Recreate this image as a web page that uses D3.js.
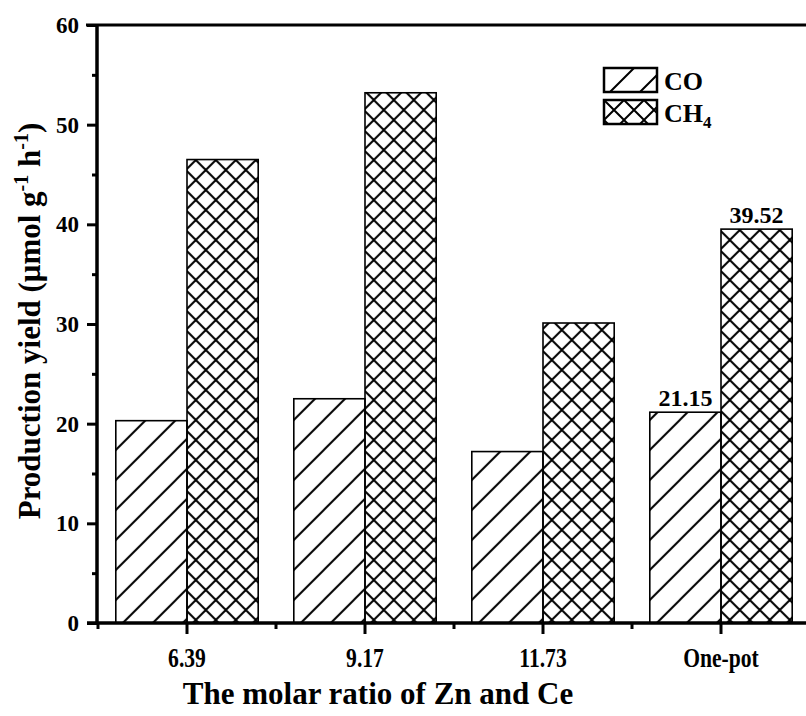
<!DOCTYPE html>
<html lang="en">
<head>
<meta charset="UTF-8">
<title>Production yield</title>
<script src="https://d3js.org/d3.v7.min.js"></script>
<style>
  body { margin: 0; background: #fff; }
  text { font-family: "Liberation Serif", "Times New Roman", serif; font-weight: bold; fill: #000; }
</style>
</head>
<body>
<div id="chart"></div>
<script>
// -- data --
const categories = ["6.39", "9.17", "11.73", "One-pot"];
const coValues = [20.3, 22.5, 17.2, 21.15];
const ch4Values = [46.5, 53.2, 30.1, 39.52];
const series = ["CO", "CH4"];
const yTicks = [0, 10, 20, 30, 40, 50, 60];
const yMinorTicks = [5, 15, 25, 35, 45, 55];
const labelledCategory = "One-pot";   // only this group carries value labels

const width = 806, height = 716;

const svg = d3.select("#chart").append("svg")
    .attr("width", width)
    .attr("height", height);

// -- hatch patterns --
const defs = svg.append("defs");
const diag = defs.append("pattern")
    .attr("id", "hatchCO")
    .attr("patternUnits", "userSpaceOnUse")
    .attr("width", 30).attr("height", 30);
diag.append("path")
    .attr("d", "M0,30 L30,0 M-2,2 L2,-2 M28,32 L32,28")
    .attr("stroke", "#000").attr("stroke-width", 2);

const cross = defs.append("pattern")
    .attr("id", "hatchCH4")
    .attr("patternUnits", "userSpaceOnUse")
    .attr("width", 20).attr("height", 20);
cross.append("path")
    .attr("d", "M0,20 L20,0 M-2,2 L2,-2 M18,22 L22,18 M0,0 L20,20 M-2,18 L2,22 M18,-2 L22,2")
    .attr("stroke", "#000").attr("stroke-width", 2);

const fills = { CO: "url(#hatchCO)", CH4: "url(#hatchCH4)" };

// -- scales --
const x = d3.scaleBand()
    .domain(categories)
    .range([98, 810])
    .paddingInner(0.2)
    .paddingOuter(0.1);

const xSub = d3.scaleBand()
    .domain(series)
    .range([0, x.bandwidth()]);

const y = d3.scaleLinear()
    .domain([0, 60])
    .range([623, 25]);

const rows = categories.map((c, i) => ({ cat: c, CO: coValues[i], CH4: ch4Values[i] }));

// -- bars --
const groups = svg.append("g").selectAll("g")
    .data(rows)
    .join("g")
    .attr("transform", d => `translate(${x(d.cat)},0)`);

groups.selectAll("rect")
    .data(d => series.map(s => ({ key: s, value: d[s], cat: d.cat })))
    .join("rect")
    .attr("x", d => xSub(d.key))
    .attr("y", d => y(d.value))
    .attr("width", xSub.bandwidth())
    .attr("height", d => y(0) - y(d.value))
    .attr("fill", d => fills[d.key])
    .attr("stroke", "#000")
    .attr("stroke-width", 1.6);

groups.selectAll("text.val")
    .data(d => d.cat === labelledCategory ? series.map(s => ({ key: s, value: d[s] })) : [])
    .join("text")
    .attr("class", "val")
    .attr("x", d => xSub(d.key) + xSub.bandwidth() / 2)
    .attr("y", d => y(d.value) - 6)
    .attr("text-anchor", "middle")
    .attr("font-size", 24)
    .text(d => d.value.toFixed(2));

// -- axes --
const yAxis = svg.append("g")
    .attr("transform", "translate(97,0)")
    .call(d3.axisLeft(y).tickValues(yTicks).tickSize(10).tickPadding(8).tickFormat(d3.format("d")));
yAxis.selectAll("text").attr("font-size", 23).style("font-family", "Liberation Serif").style("font-weight", "bold");

svg.append("g")
    .attr("transform", "translate(97,0)")
    .call(d3.axisLeft(y).tickValues(yMinorTicks).tickSize(5).tickFormat(""));

const xAxis = svg.append("g")
    .attr("transform", "translate(0,623)")
    .call(d3.axisBottom(x).tickSize(11).tickPadding(14));
xAxis.selectAll("text")
    .attr("font-size", 27)
    .attr("transform", "scale(0.8,1)")
    .style("font-family", "Liberation Serif").style("font-weight", "bold");

// minor x ticks on the band edges
const edges = categories.map(c => x(c) - x.step() * x.paddingInner() / 2)
    .concat([x(categories[categories.length - 1]) + x.bandwidth() + x.step() * x.paddingInner() / 2]);
svg.append("g").selectAll("line")
    .data(edges)
    .join("line")
    .attr("x1", d => d).attr("x2", d => d)
    .attr("y1", 623).attr("y2", 629)
    .attr("stroke", "#000").attr("stroke-width", 3);

svg.selectAll(".domain").remove();
svg.selectAll(".tick line").attr("stroke", "#000").attr("stroke-width", 3);

// axis lines
svg.append("line").attr("x1", 87).attr("x2", width).attr("y1", 623).attr("y2", 623)
    .attr("stroke", "#000").attr("stroke-width", 3.5);
svg.append("line").attr("x1", 97).attr("x2", 97).attr("y1", 24).attr("y2", 624)
    .attr("stroke", "#000").attr("stroke-width", 3.5);
svg.append("line").attr("x1", 86).attr("x2", width).attr("y1", 25).attr("y2", 25)
    .attr("stroke", "#000").attr("stroke-width", 3);

// -- axis titles --
svg.append("text")
    .attr("x", 378).attr("y", 704)
    .attr("text-anchor", "middle")
    .attr("font-size", 31)
    .text("The molar ratio of Zn and Ce");

const yTitle = svg.append("text")
    .attr("transform", "translate(40,321) rotate(-90)")
    .attr("text-anchor", "middle")
    .attr("font-size", 31);
yTitle.append("tspan").text("Production yield (μmol g");
yTitle.append("tspan").attr("dy", -12).attr("font-size", 20).text("-1");
yTitle.append("tspan").attr("dy", 12).text(" h");
yTitle.append("tspan").attr("dy", -12).attr("font-size", 20).text("-1");
yTitle.append("tspan").attr("dy", 12).text(")");

// -- legend --
const legend = svg.append("g").selectAll("g")
    .data(series)
    .join("g")
    .attr("transform", (d, i) => `translate(604,${68 + i * 32})`);
legend.append("rect")
    .attr("width", 53).attr("height", 24)
    .attr("fill", d => fills[d])
    .attr("stroke", "#000").attr("stroke-width", 2.5);
const legText = legend.append("text")
    .attr("x", 60).attr("y", 22)
    .attr("font-size", 26);
legText.append("tspan").text(d => d === "CH4" ? "CH" : d);
legText.filter(d => d === "CH4").append("tspan")
    .attr("dy", 6).attr("font-size", 17).text("4");
</script>
</body>
</html>
